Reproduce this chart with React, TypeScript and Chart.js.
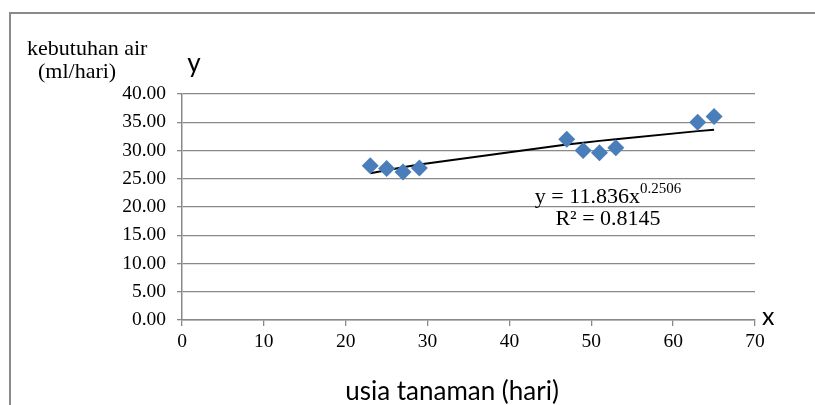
import React, { useEffect, useRef } from "react";
import { Chart, registerables } from "chart.js";

Chart.register(...registerables);

// ---- data ----
const ageDays = [23, 25, 27, 29, 47, 49, 51, 53, 63, 65];
const waterNeed = [27.3, 26.8, 26.2, 26.9, 32.0, 30.0, 29.6, 30.5, 35.0, 36.0];
const trendCoef = 11.836;
const trendExp = 0.2506;
const trendCoefLabel = "11.836";
const trendExpLabel = "0.2506";
const rSquaredLabel = "0.8145";
const yAxisLabelLines = ["kebutuhan air", "(ml/hari)"];
const yLetter = "y";
const xLetter = "x";
const xAxisTitle = "usia tanaman (hari)";
const yMin = 0, yMax = 40, yStep = 5;
const xMin = 0, xMax = 70, xStep = 10;

const SERIF = "'Liberation Serif', 'Times New Roman', serif";
const SANS = "Lato, 'Open Sans', sans-serif";
const GRID = "#898989";

const decorPlugin = {
  id: "decor",
  afterDraw(chart: any) {
    const ctx = chart.ctx as CanvasRenderingContext2D;
    ctx.save();
    // outer frame
    ctx.strokeStyle = "#8a8a8a";
    ctx.lineWidth = 2;
    ctx.beginPath();
    ctx.moveTo(10, 420);
    ctx.lineTo(10, 13);
    ctx.lineTo(830, 13);
    ctx.stroke();

    ctx.fillStyle = "#000";
    ctx.textBaseline = "alphabetic";
    // y axis label
    ctx.font = `22px ${SERIF}`;
    ctx.textAlign = "left";
    ctx.fillText(yAxisLabelLines[0], 27, 55);
    ctx.fillText(yAxisLabelLines[1], 38, 78);

    // y letter
    ctx.font = `26px ${SANS}`;
    ctx.textAlign = "center";
    ctx.fillText(yLetter, 194, 71.5);

    // x letter
    ctx.font = `25px ${SANS}`;
    ctx.textAlign = "left";
    ctx.fillText(xLetter, 762, 325);

    // x axis title
    ctx.font = `26px ${SANS}`;
    ctx.textAlign = "center";
    ctx.fillText(xAxisTitle, 452, 400);

    // equation
    const cx = 608;
    ctx.textAlign = "left";
    ctx.font = `22px ${SERIF}`;
    const main = `y = ${trendCoefLabel}x`;
    const wMain = ctx.measureText(main).width;
    ctx.font = `15px ${SERIF}`;
    const wSup = ctx.measureText(trendExpLabel).width;
    const startX = cx - (wMain + wSup) / 2;
    ctx.font = `22px ${SERIF}`;
    ctx.fillText(main, startX, 203);
    ctx.font = `15px ${SERIF}`;
    ctx.fillText(trendExpLabel, startX + wMain, 193);
    ctx.font = `22px ${SERIF}`;
    ctx.textAlign = "center";
    ctx.fillText(`R\u00B2 = ${rSquaredLabel}`, cx, 225);
    ctx.restore();
  },
};

export default function App() {
  const ref = useRef<HTMLCanvasElement | null>(null);
  useEffect(() => {
    if (!ref.current) return;
    const scatter = ageDays.map((x, i) => ({ x, y: waterNeed[i] }));
    const trend = ageDays.map((x) => ({ x, y: trendCoef * Math.pow(x, trendExp) }));
    const chart = new Chart(ref.current, {
      type: "scatter",
      data: {
        datasets: [
          {
            type: "line",
            data: trend,
            borderColor: "#000",
            borderWidth: 2,
            pointRadius: 0,
            fill: false,
            order: 2,
          } as any,
          {
            data: scatter,
            pointStyle: "rectRot",
            pointRadius: 8.5,
            backgroundColor: "#4a7ebb",
            borderColor: "#4a7ebb",
            borderWidth: 0,
            order: 1,
          },
        ],
      },
      options: {
        responsive: false,
        animation: false,
        layout: { padding: { left: 0, top: 94, right: 60, bottom: 0 } },
        plugins: { legend: { display: false }, tooltip: { enabled: false } },
        scales: {
          x: {
            type: "linear",
            min: xMin,
            max: xMax,
            ticks: { stepSize: xStep, color: "#000", font: { family: SERIF, size: 19.5 }, padding: 4, maxRotation: 0 },
            grid: { drawOnChartArea: false, drawTicks: true, tickLength: 6, color: GRID, lineWidth: 1.3 },
            border: { display: true, color: GRID, width: 1.5 },
            afterFit(scale: any) { scale.height = 85; },
          },
          y: {
            type: "linear",
            min: yMin,
            max: yMax,
            ticks: {
              stepSize: yStep,
              color: "#000",
              font: { family: SERIF, size: 19.5 },
              padding: 11,
              callback: (v: any) => Number(v).toFixed(2),
            },
            grid: { drawOnChartArea: true, drawTicks: true, tickLength: 5, color: GRID, lineWidth: 1.3 },
            border: { display: true, color: GRID, width: 1.5 },
            afterFit(scale: any) { scale.width = 182; },
          },
        },
      },
      plugins: [decorPlugin],
    });
    return () => chart.destroy();
  }, []);
  return (
    <div style={{ position: "fixed", left: 0, top: 0, width: 815, height: 405, background: "#fff" }}>
      <canvas ref={ref} width={815} height={405} />
    </div>
  );
}
